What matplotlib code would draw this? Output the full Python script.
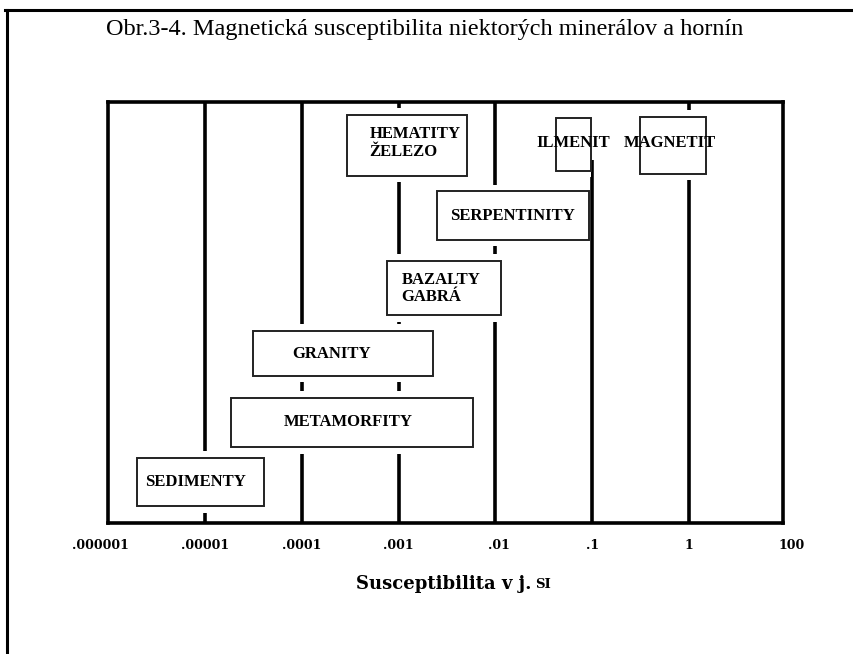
import matplotlib
matplotlib.use("Agg")
import matplotlib.pyplot as plt
from matplotlib.patches import Rectangle
from matplotlib.lines import Line2D

# ---- data (x in log10 of SI susceptibility, y in relative row units 0..1) ----
labels = ["SEDIMENTY", "METAMORFITY", "GRANITY", "BAZALTY\nGABRÁ",
          "SERPENTINITY", "HEMATITY\nŽELEZO", "ILMENIT", "MAGNETIT"]
x_lo = [-5.70, -4.73, -4.50, -3.12, -2.60, -3.53, -1.37, -0.51]
x_hi = [-4.39, -2.23, -2.64, -1.94, -1.03, -2.29, -1.01, 0.18]
y_lo = [0.040, 0.180, 0.350, 0.493, 0.673, 0.825, 0.837, 0.830]
y_hi = [0.154, 0.297, 0.457, 0.622, 0.788, 0.970, 0.961, 0.965]
text_x = [-5.10, -3.52, -3.69, -2.97, -1.82, -3.30, -1.20, -0.20]
text_y = [0.097, 0.240, 0.402, 0.557, 0.730, 0.903, 0.902, 0.902]
text_ha = ["center", "center", "center", "left", "center", "left", "center", "center"]

tick_pos = [-6.08, -5, -4, -3, -1.96, -1, 0, 1.06]
tick_labels = [".000001", ".00001", ".0001", ".001", ".01", ".1", "1", "100"]
decades = [-5, -4, -3, -2, -1, 0]
line_top = [1.0, 1.0, 1.0, 1.0, 0.862, 1.0]

title = "Obr.3-4. Magnetická susceptibilita niektorých minerálov a hornín"
xlabel_main = "Susceptibilita v j."
xlabel_unit = "SI"

fig = plt.figure(figsize=(8.54, 6.54), dpi=100)
ax = fig.add_axes([108 / 854, (654 - 523) / 654, (783 - 108) / 854, (523 - 102) / 654])
ax.set_xlim(-6, 0.97)
ax.set_ylim(0, 1)

# vertical decade lines
for d, top in zip(decades, line_top):
    ax.plot([d, d], [0, top], color="black", lw=2.6, zorder=1,
            solid_capstyle="butt")

pad = 0.016
for a, b, c, e in zip(x_lo, x_hi, y_lo, y_hi):
    # white halo to break vertical lines around the box
    ax.add_patch(Rectangle((a, c - pad), (b - a), (e - c) + 2 * pad,
                           facecolor="white", edgecolor="none", zorder=1.5))
    ax.add_patch(Rectangle((a, c), b - a, e - c, facecolor="white",
                           edgecolor="#222222", lw=1.4, zorder=3))

for lab, tx, ty, ha in zip(labels, text_x, text_y, text_ha):
    ax.text(tx, ty, lab, ha=ha, va="center", fontsize=12, fontweight="bold",
            family="Liberation Serif", linespacing=1.15, zorder=4)

for s in ax.spines.values():
    s.set_linewidth(2.6)
    s.set_zorder(2.5)

ax.set_yticks([])
ax.set_xticks([])
for p, t in zip(tick_pos, tick_labels):
    ax.text(p, -0.053, t, transform=ax.get_xaxis_transform(), ha="center",
            va="center", fontsize=9, fontweight="bold", family="DejaVu Serif",
            clip_on=False)

fig.text(531 / 854, 1 - 584 / 654, xlabel_main, ha="right", va="center",
         fontsize=13, fontweight="bold", family="DejaVu Serif")
fig.text(535 / 854, 1 - 584 / 654, xlabel_unit, ha="left", va="center",
         fontsize=9.5, fontweight="bold", family="DejaVu Serif")

fig.text(425 / 854, 1 - 30 / 654, title, ha="center", va="center",
         fontsize=17.5, family="Liberation Serif")

# outer frame (top and left edges)
fig.add_artist(Line2D([5 / 854, 1.0], [1 - 9.5 / 654, 1 - 9.5 / 654],
                      transform=fig.transFigure, color="black", lw=2.2))
fig.add_artist(Line2D([7 / 854, 7 / 854], [0, 1 - 9.5 / 654],
                      transform=fig.transFigure, color="black", lw=2.2))

fig.savefig("out.png", dpi=100)
